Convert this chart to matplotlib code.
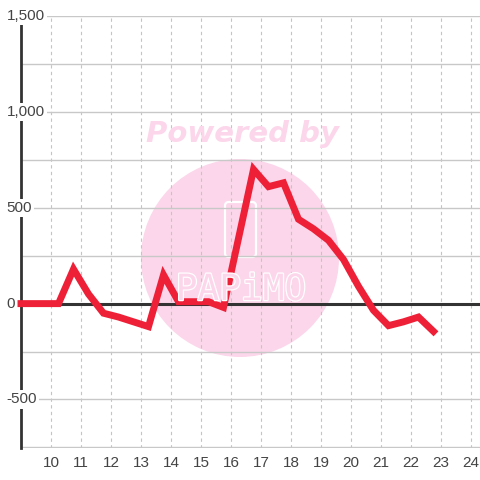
import matplotlib
matplotlib.use("Agg")
import matplotlib.pyplot as plt
import matplotlib.patheffects as pe
from matplotlib.patches import Circle, FancyBboxPatch

plt.rcParams['font.family'] = ['Liberation Sans', 'DejaVu Sans']

# data
hours = [9.0, 10.25, 10.75, 11.25, 11.75, 12.25, 12.75, 13.25, 13.75, 14.25, 14.75,
         15.25, 15.75, 16.25, 16.75, 17.25, 17.75, 18.25, 18.75, 19.25, 19.75,
         20.25, 20.75, 21.25, 21.75, 22.25, 22.75]
values = [0, 0, 180, 50, -50, -70, -95, -120, 150, 10, 10,
          10, -20, 340, 700, 610, 630, 440, 390, 330, 230,
          90, -35, -115, -95, -70, -145]
x_ticks = list(range(10, 25))
y_grid = [-750, -500, -250, 0, 250, 500, 750, 1000, 1250, 1500]
y_labels = [1500, 1000, 500, 0, -500]

fig = plt.figure(figsize=(4.8, 4.8), dpi=100)
ax = fig.add_axes([21 / 480, 32 / 480, 459 / 480, 432 / 480])
ax.set_xlim(9, 24.3)
ax.set_ylim(-753, 1500)

# watermark, under the grid
pink = '#fcd6ea'
ax.add_patch(Circle((0.5, 1 - 258 / 480), 99 / 480, transform=fig.transFigure,
                    facecolor=pink, edgecolor='none', zorder=0.1))
ax.add_patch(FancyBboxPatch((225 / 480, 1 - 257 / 480), 31 / 480, 55 / 480,
                            boxstyle="round,pad=0,rounding_size=0.008",
                            transform=fig.transFigure, facecolor='none',
                            edgecolor='white', linewidth=1.6, zorder=0.2))
fig.text(242 / 480, 1 - 134 / 480, "Powered by", color=pink, fontsize=21,
         fontweight='bold', style='italic', family='DejaVu Sans',
         ha='center', va='center', zorder=0.2)
fig.text(241 / 480, 1 - 290 / 480, "PAPiMO", color=pink, fontsize=26,
         family='DejaVu Sans Mono', ha='center', va='center', zorder=0.2,
         path_effects=[pe.withStroke(linewidth=1.8, foreground='white')])

# grid
ax.set_axisbelow(True)
ax.set_yticks(y_grid)
ax.set_yticklabels([])
ax.set_xticks(x_ticks)
ax.grid(axis='y', color='#c8c8c8', linewidth=1, linestyle='-')
ax.grid(axis='x', color='#c4c4c4', linewidth=0.8, linestyle=(0, (3, 3)))
ax.tick_params(axis='both', length=0)
ax.tick_params(axis='x', labelsize=11, labelcolor='#444444', pad=6)

for s in ['top', 'right', 'bottom']:
    ax.spines[s].set_visible(False)
ax.spines['left'].set_color('#333333')
ax.spines['left'].set_linewidth(2)

ax.axhline(0, color='#333333', linewidth=2.2, zorder=2)

ax.plot(hours, values, color='#ee2038', linewidth=5, solid_joinstyle='miter',
        solid_capstyle='projecting', clip_on=False, zorder=3)

for v in y_labels:
    ax.text(-0.031, v, f"{v:,}", transform=ax.get_yaxis_transform(),
            ha='left', va='center', fontsize=11, color='#444444', zorder=4,
            clip_on=False,
            bbox=dict(facecolor='white', edgecolor='none', pad=1.5))

fig.savefig("out.png", dpi=100)
